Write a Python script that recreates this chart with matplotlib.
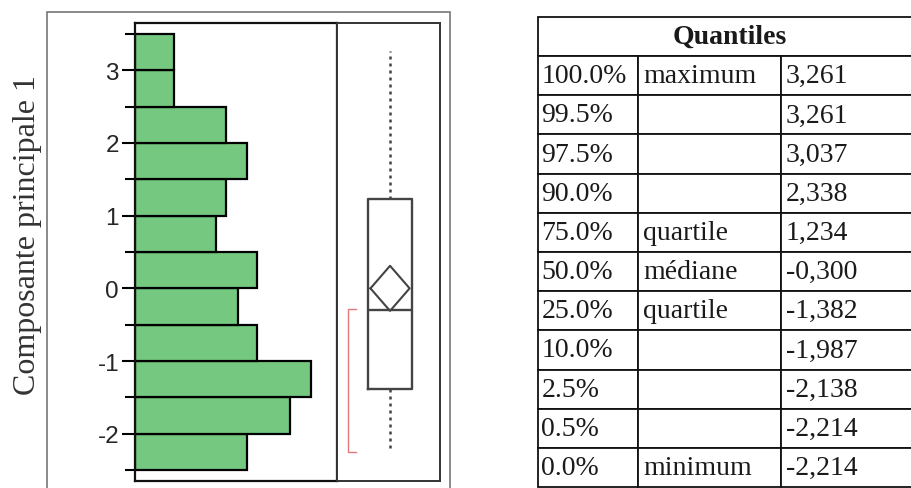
import numpy as np
import matplotlib
matplotlib.use("Agg")
import matplotlib.pyplot as plt
from matplotlib.patches import Rectangle

# histogramme (bins de 0.5, du bas vers le haut)
bin_edges = [-2.5, -2.0, -1.5, -1.0, -0.5, 0.0, 0.5, 1.0, 1.5, 2.0, 2.5, 3.0, 3.5]
counts = [5.8, 8.0, 9.1, 6.3, 5.3, 6.3, 4.2, 4.7, 5.8, 4.7, 2.0, 2.0]

# quantiles
q_pct = ["100.0%", "99.5%", "97.5%", "90.0%", "75.0%", "50.0%", "25.0%",
         "10.0%", "2.5%", "0.5%", "0.0%"]
q_name = ["maximum", "", "", "", "quartile", "médiane", "quartile",
          "", "", "", "minimum"]
q_val = [3.261, 3.261, 3.037, 2.338, 1.234, -0.300, -1.382,
         -1.987, -2.138, -2.214, -2.214]

mean_val = 0.0
mean_ci = 0.31
shortest_half = [-2.25, -0.28]

W, H = 911, 489
fig = plt.figure(figsize=(W / 100, H / 100), dpi=100)

def fa(x0, y0, x1, y1):
    # pixels -> coordonnees figure
    return [x0 / W, 1 - y1 / H, (x1 - x0) / W, (y1 - y0) / H]

ylim = (-2.65, 3.65)

# cadre gris exterieur
fig.patches.append(Rectangle((47 / W, -0.05), (450 - 47) / W, 1.05 - 13 / H,
                             transform=fig.transFigure, fill=False,
                             edgecolor="#777777", lw=1.2))

# --- histogramme
ax = fig.add_axes(fa(135, 24, 337, 482))
widths = np.diff(bin_edges)
ax.barh(bin_edges[:-1], counts, height=widths, align="edge",
        color="#74c880", edgecolor="black", linewidth=1.6)
ax.set_ylim(*ylim)
ax.set_xlim(0, max(counts) * 202 / 176)
ax.set_xticks([])
ax.set_yticks([-2, -1, 0, 1, 2, 3])
ax.set_yticklabels(["-2", "-1", "0", "1", "2", "3"], family="Liberation Sans")
ax.set_yticks(np.arange(-2.5, 4, 1.0), minor=True)
ax.tick_params(axis="y", which="major", length=9.5, width=1.5, pad=2,
               labelsize=17.5, labelcolor="#262626")
ax.tick_params(axis="y", which="minor", length=7, width=1.5)
for s in ax.spines.values():
    s.set_linewidth(1.6)
    s.set_color("#111111")

fig.text(28 / W, 1 - 235 / H, "Composante principale 1", rotation=90,
         ha="center", va="center", family="Liberation Serif", fontsize=23,
         color="#333333")

# --- boite a moustaches
bx = fig.add_axes(fa(337, 24, 440, 482))
stats = [dict(med=q_val[5], q1=q_val[6], q3=q_val[4],
              whislo=q_val[-1], whishi=q_val[0], fliers=[])]
bx.bxp(stats, positions=[0.515], widths=0.43, showcaps=False,
       manage_ticks=False,
       boxprops=dict(color="#444444", lw=1.7),
       medianprops=dict(color="#444444", lw=1.7),
       whiskerprops=dict(color="#444444", lw=1.8, linestyle=(0, (1.2, 1.6))))

# diamant de la moyenne
cx, dx = 0.515, 0.19
bx.plot([cx - dx, cx, cx + dx, cx, cx - dx],
        [mean_val, mean_val + mean_ci, mean_val, mean_val - mean_ci, mean_val],
        color="#444444", lw=1.5)

# crochet rouge (shortest half)
bx.plot([0.18, 0.107, 0.107, 0.18],
        [shortest_half[1], shortest_half[1], shortest_half[0], shortest_half[0]],
        color="#e07a7a", lw=1.0)

bx.set_ylim(*ylim)
bx.set_xlim(0, 1)
bx.set_xticks([])
bx.set_yticks([])
for s in bx.spines.values():
    s.set_linewidth(1.4)
    s.set_color("#333333")

# --- table des quantiles
tx = fig.add_axes(fa(538, 18, 922, 488))
tx.axis("off")
rows = [["", "", ""]] + [[p, n, f"{v:.3f}".replace(".", ",")]
                         for p, n, v in zip(q_pct, q_name, q_val)]
tab = tx.table(cellText=rows, colWidths=[100 / 384, 143 / 384, 141 / 384],
               cellLoc="left", bbox=[0, 0, 1, 1])
tab.auto_set_font_size(False)
for (r, c), cell in tab.get_celld().items():
    cell.set_linewidth(1.3)
    cell.set_edgecolor("#111111")
    cell.PAD = 0.035
    t = cell.get_text()
    t.set_fontfamily("Liberation Serif")
    t.set_fontsize(20)
    t.set_color("#1a1a1a")
    if r == 0:
        cell.visible_edges = {0: "BTL", 1: "BT", 2: "BTR"}[c]
tx.text(0.5, 1 - 0.5 / 12, "Quantiles", transform=tx.transAxes, ha="center",
        va="center", family="Liberation Serif", fontweight="bold", fontsize=20,
        color="#1a1a1a")

fig.savefig("out.png", dpi=100)
